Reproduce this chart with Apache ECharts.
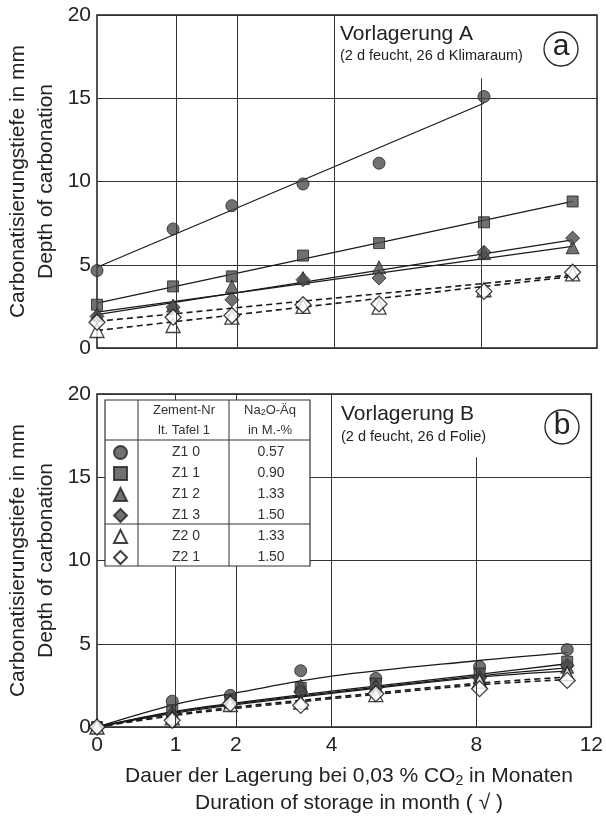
<!DOCTYPE html>
<html><head><meta charset="utf-8">
<script src="https://cdn.jsdelivr.net/npm/echarts@6/dist/echarts.min.js"></script>
<style>html,body{margin:0;padding:0;background:#fff}#c{width:606px;height:819px}</style>
</head><body><div id="c"></div>
<script>
// ---- data (months of storage; axis drawn in sqrt of total age = sqrt(months + 1)) ----
const months = [0, 0.95, 1.9, 3.3, 5.1, 8.1, 11.1];
const tickMonths = [0, 1, 2, 4, 8, 12];
const gridMonths = [1, 2, 4, 8];
const gridTopVal = [20, 20, 20, 16.2];
const seriesNames = ['Z1 0', 'Z1 1', 'Z1 2', 'Z1 3', 'Z2 0', 'Z2 1'];
const na2o = ['0.57', '0.90', '1.33', '1.50', '1.33', '1.50'];

// Panel a: Vorlagerung A
const A_Z10 = [4.65, 7.15, 8.55, 9.85, 11.1, 15.1, null];
const A_Z11 = [2.6, 3.7, 4.3, 5.55, 6.3, 7.55, 8.8];
const A_Z12 = [2.0, 2.55, 3.7, 4.2, 4.85, 5.7, 6.05];
const A_Z13 = [1.9, 2.45, 2.9, 4.1, 4.2, 5.75, 6.6];
const A_Z20 = [1.05, 1.35, 1.85, 2.5, 2.45, 3.5, 4.45];
const A_Z21 = [1.55, 1.85, 1.95, 2.6, 2.65, 3.4, 4.55];
// fitted lines panel a: [month, value] end points
const A_fit_Z10 = [[0, 4.85], [8.1, 14.7]];
const A_fit_Z11 = [[0, 2.7], [11.1, 8.8]];
const A_fit_Z12 = [[0, 2.15], [11.1, 6.1]];
const A_fit_Z13 = [[0, 2.0], [11.1, 6.5]];
const A_fit_Z20 = [[0, 1.05], [11.1, 4.3]];
const A_fit_Z21 = [[0, 1.6], [11.1, 4.4]];

// Panel b: Vorlagerung B
const B_Z10 = [0, 1.55, 1.9, 3.38, 2.92, 3.62, 4.65];
const B_Z11 = [0, 1.0, 1.6, 2.35, 2.6, 3.2, 3.92];
const B_Z12 = [0, 0.85, 1.5, 2.5, 2.45, 3.0, 3.62];
const B_Z13 = [0, 0.75, 1.45, 2.1, 2.35, 2.95, 3.7];
const B_Z20 = [0, 0.55, 1.35, 1.5, 1.95, 2.75, 3.2];
const B_Z21 = [0, 0.4, 1.4, 1.3, 2.0, 2.3, 2.8];
// fitted curves panel b
const B_fitMonths = [0, 1, 2, 4, 8, 11.1];
const B_fit_Z10 = [0, 1.36, 2.05, 3.05, 3.98, 4.47];
const B_fit_Z11 = [0, 0.95, 1.45, 2.15, 3.15, 3.8];
const B_fit_Z12 = [0, 0.9, 1.4, 2.08, 3.05, 3.55];
const B_fit_Z13 = [0, 0.85, 1.35, 2.02, 2.98, 3.35];
const B_fit_Z20 = [0, 0.75, 1.2, 1.78, 2.62, 3.0];
const B_fit_Z21 = [0, 0.7, 1.12, 1.7, 2.52, 2.85];

// ---- build ----
const sx = t => Math.sqrt(t + 1);
const FONT = '"Liberation Sans", Arial, sans-serif';
const symbols = ['circle', 'rect', 'triangle', 'diamond', 'triangle', 'diamond'];
const filled = [true, true, true, true, false, false];
const symSize = [12, 11, 13, 14, 14, 16];
const dashed = [false, false, false, false, true, true];

const A_vals = [A_Z10, A_Z11, A_Z12, A_Z13, A_Z20, A_Z21];
const A_fits = [A_fit_Z10, A_fit_Z11, A_fit_Z12, A_fit_Z13, A_fit_Z20, A_fit_Z21];
const B_vals = [B_Z10, B_Z11, B_Z12, B_Z13, B_Z20, B_Z21];
const B_fits = [B_fit_Z10, B_fit_Z11, B_fit_Z12, B_fit_Z13, B_fit_Z20, B_fit_Z21];

function symStyle(i) {
  return filled[i]
    ? { color: '#4d4d4d', borderColor: '#222', borderWidth: 1 }
    : { color: '#ffffff', borderColor: '#111', borderWidth: 1.3 };
}
function lineStyle(i) {
  return { color: '#1a1a1a', width: dashed[i] ? 1.6 : 1.3, type: dashed[i] ? [6, 4] : 'solid' };
}
function gridMark() {
  return {
    symbol: ['none', 'none'], silent: true, animation: false,
    label: { show: false },
    lineStyle: { color: '#333', width: 1, type: 'solid' },
    emphasis: { disabled: true },
    data: gridMonths.map((m, k) => [{ coord: [sx(m), 0] }, { coord: [sx(m), gridTopVal[k]] }])
  };
}

const series = [];
[0, 1].forEach(g => {
  series.push({ type: 'line', xAxisIndex: g, yAxisIndex: g, data: [], z: 1, markLine: gridMark() });
});
// fit lines
A_fits.forEach((f, i) => series.push({
  type: 'line', name: 'fitA' + i, xAxisIndex: 0, yAxisIndex: 0, z: 2,
  data: f.map(p => [sx(p[0]), p[1]]), showSymbol: false, symbol: 'none',
  lineStyle: lineStyle(i), silent: true, animation: false
}));
B_fits.forEach((f, i) => series.push({
  type: 'line', name: 'fitB' + i, xAxisIndex: 1, yAxisIndex: 1, z: 2,
  data: B_fitMonths.map((m, k) => [sx(m), f[k]]), showSymbol: false, symbol: 'none', smooth: 0.35,
  lineStyle: lineStyle(i), silent: true, animation: false
}));
// points
const order = [0, 1, 2, 3, 4, 5];
order.forEach(i => series.push({
  type: 'scatter', name: 'A ' + seriesNames[i], xAxisIndex: 0, yAxisIndex: 0, z: 3 + (filled[i] ? 0 : 1),
  symbol: symbols[i], symbolSize: symSize[i], itemStyle: symStyle(i), animation: false,
  data: months.map((m, k) => A_vals[i][k] == null ? null : [sx(m), A_vals[i][k]]).filter(d => d)
}));
order.forEach(i => series.push({
  type: 'scatter', name: seriesNames[i], xAxisIndex: 1, yAxisIndex: 1, z: 3 + (filled[i] ? 0 : 1),
  symbol: symbols[i], symbolSize: symSize[i], itemStyle: symStyle(i), animation: false,
  data: months.map((m, k) => [sx(m), B_vals[i][k]])
}));

const xAxisBase = {
  type: 'value', min: sx(0), max: sx(12),
  axisLine: { show: false }, axisTick: { show: false }, splitLine: { show: false }
};
const yAxisBase = {
  type: 'value', min: 0, max: 20, interval: 5,
  axisLine: { show: false }, axisTick: { show: false },
  splitLine: { show: true, lineStyle: { color: '#333', width: 1 } },
  axisLabel: { fontSize: 21, color: '#222', margin: 6, fontFamily: FONT }
};

function yTitle(x, y, text) {
  return {
    type: 'text', x: x, y: y, rotation: Math.PI / 2, z: 30, silent: true,
    style: { text: text, fill: '#222', font: '21px ' + FONT, fontSize: 21, fontFamily: FONT,
      align: 'center', verticalAlign: 'middle', textAlign: 'center', textVerticalAlign: 'middle' }
  };
}
function txt(x, y, text, size, align, fill) {
  return {
    type: 'text', x: x, y: y, z: 30, silent: true,
    style: { text: text, fill: fill || '#222', fontSize: size, fontFamily: FONT,
      align: align || 'left', verticalAlign: 'middle', textAlign: align || 'left', textVerticalAlign: 'middle' }
  };
}
function richTxt(x, y, text, size, rich) {
  return {
    type: 'text', x: x, y: y, z: 30, silent: true,
    style: { text: text, fill: '#333', fontSize: size, fontFamily: FONT, rich: rich,
      align: 'center', verticalAlign: 'middle', textAlign: 'center', textVerticalAlign: 'middle' }
  };
}

// legend table geometry
const T = { x0: 105, x1: 310, y0: 400, y1: 566, c1: 138, c2: 229, h1: 440, h2: 524 };
const graphic = [
  yTitle(18, 181.5, 'Carbonatisierungstiefe in mm'),
  yTitle(46, 181.5, 'Depth of carbonation'),
  yTitle(18, 560.5, 'Carbonatisierungstiefe in mm'),
  yTitle(46, 560.5, 'Depth of carbonation'),
  txt(340, 34, 'Vorlagerung A', 21),
  txt(340, 56, '(2 d feucht, 26 d Klimaraum)', 14.5),
  { type: 'circle', z: 30, silent: true, shape: { cx: 561, cy: 49, r: 17 }, style: { fill: '#fff', stroke: '#222', lineWidth: 1.3 } },
  txt(561, 47, 'a', 30, 'center'),
  txt(341, 414, 'Vorlagerung B', 21),
  txt(341, 437, '(2 d feucht, 26 d Folie)', 14.5),
  { type: 'circle', z: 30, silent: true, shape: { cx: 562, cy: 427, r: 17 }, style: { fill: '#fff', stroke: '#222', lineWidth: 1.3 } },
  txt(562, 426, 'b', 30, 'center'),
  // x axis titles
  {
    type: 'text', x: 349, y: 776, z: 30, silent: true,
    style: { text: 'Dauer der Lagerung bei 0,03 % CO{s|2} in Monaten', fill: '#222', fontSize: 21, fontFamily: FONT,
      rich: { s: { fontSize: 14, fontFamily: FONT, fill: '#222', padding: [10, 0, 0, 0] } },
      align: 'center', verticalAlign: 'middle', textAlign: 'center', textVerticalAlign: 'middle' }
  },
  txt(349, 803, 'Duration of storage in month ( \u221A )', 21, 'center'),
  // legend table
  { type: 'rect', z: 10, silent: true, shape: { x: T.x0, y: T.y0, width: T.x1 - T.x0, height: T.y1 - T.y0 }, style: { fill: '#fff', stroke: '#333', lineWidth: 1.2 } },
  { type: 'line', z: 11, silent: true, shape: { x1: T.c1, y1: T.y0, x2: T.c1, y2: T.y1 }, style: { stroke: '#333', lineWidth: 1 } },
  { type: 'line', z: 11, silent: true, shape: { x1: T.c2, y1: T.y0, x2: T.c2, y2: T.y1 }, style: { stroke: '#333', lineWidth: 1 } },
  { type: 'line', z: 11, silent: true, shape: { x1: T.x0, y1: T.h1, x2: T.x1, y2: T.h1 }, style: { stroke: '#333', lineWidth: 1 } },
  { type: 'line', z: 11, silent: true, shape: { x1: T.x0, y1: T.h2, x2: T.x1, y2: T.h2 }, style: { stroke: '#333', lineWidth: 1 } },
  txt(184, 410, 'Zement-Nr', 13, 'center', '#333'),
  txt(184, 430, 'lt. Tafel 1', 13, 'center', '#333'),
  richTxt(270, 410, 'Na{s|2}O-Äq', 13, { s: { fontSize: 9, fontFamily: FONT, fill: '#333', padding: [6, 0, 0, 0] } }),
  txt(270, 430, 'in M.-%', 13, 'center', '#333')
];

const option = {
  backgroundColor: '#fff',
  animation: false,
  grid: [
    { left: 97, top: 15, width: 500, height: 333, show: true, borderColor: '#1a1a1a', borderWidth: 1.5, backgroundColor: 'transparent' },
    { left: 97, top: 394, width: 500, height: 333, show: true, borderColor: '#1a1a1a', borderWidth: 1.5, backgroundColor: 'transparent' }
  ],
  xAxis: [
    Object.assign({}, xAxisBase, { gridIndex: 0, axisLabel: { show: false } }),
    Object.assign({}, xAxisBase, {
      gridIndex: 1,
      axisLabel: {
        show: true, fontSize: 21, color: '#222', margin: 8, fontFamily: FONT,
        customValues: tickMonths.map(sx),
        formatter: v => String(Math.round(v * v - 1))
      }
    })
  ],
  yAxis: [
    Object.assign({}, yAxisBase, { gridIndex: 0 }),
    Object.assign({}, yAxisBase, { gridIndex: 1 })
  ],
  legend: {
    data: seriesNames.map((n, i) => ({ name: n, icon: symbols[i] })),
    orient: 'vertical', left: 113, top: 445, itemWidth: 13, itemHeight: 13, itemGap: 6, z: 20,
    selectedMode: false, padding: 0,
    formatter: n => '{a|' + n + '}{b|' + na2o[seriesNames.indexOf(n)] + '}',
    textStyle: {
      fontFamily: FONT,
      rich: {
        a: { width: 108, align: 'center', fontSize: 14, lineHeight: 14, color: '#333', fontFamily: FONT },
        b: { width: 62, align: 'center', fontSize: 14, lineHeight: 14, color: '#333', fontFamily: FONT }
      }
    }
  },
  graphic: graphic,
  series: series
};

const chart = echarts.init(document.getElementById('c'), null, { renderer: 'canvas' });
chart.setOption(option);
</script>
</body></html>
